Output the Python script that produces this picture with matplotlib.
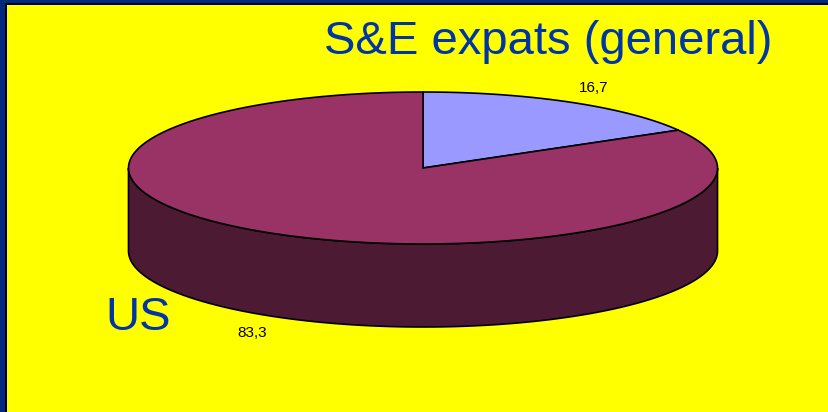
import numpy as np
import matplotlib.pyplot as plt
from matplotlib.patches import Polygon, Rectangle

# data
categories = ['', 'US']
values = [16.7, 83.3]
value_labels = ['16,7', '83,3']
title = 'S&E expats (general)'

top_colors = ['#9999FF', '#993366']
side_colors = ['#4D4D80', '#4D1A33']
navy = '#00297F'
text_blue = '#0035A5'

W, H = 829, 412
plt.rcParams['font.family'] = ['Liberation Sans', 'DejaVu Sans']

fig = plt.figure(figsize=(W / 100, H / 100), dpi=100)
fig.patch.set_facecolor(navy)
ax = fig.add_axes([0, 0, 1, 1])
ax.set_xlim(0, W)
ax.set_ylim(H, 0)
ax.axis('off')

# yellow panel with thin black frame on left/top
ax.add_patch(Rectangle((5, 3), W + 20, H + 20, facecolor='black',
                       edgecolor='none', clip_on=False))
ax.add_patch(Rectangle((7, 5), W + 20, H + 20, facecolor='#FFFF00',
                       edgecolor='none', clip_on=False))

# pie geometry (pixels)
cx, cy, rx, ry, depth = 423, 168, 294.5, 76, 83


def ell(t, dz=0.0):
    return np.column_stack([cx + rx * np.cos(t), cy - ry * np.sin(t) + dz])


fracs = np.array(values) / sum(values)
starts = np.pi / 2 - 2 * np.pi * np.concatenate([[0], np.cumsum(fracs)[:-1]])
ends = starts - 2 * np.pi * fracs

# side walls (front half only)
for s, e, c in zip(starts, ends, side_colors):
    for k in (-1, 0, 1):
        lo = max(e, -np.pi + 2 * np.pi * k)
        hi = min(s, 2 * np.pi * k)
        if lo < hi:
            t = np.linspace(lo, hi, 200)
            pts = np.vstack([ell(t), ell(t[::-1], depth)])
            ax.add_patch(Polygon(pts, closed=True, facecolor=c,
                                 edgecolor='black', linewidth=1.2))

# top faces
for s, e, c in zip(starts, ends, top_colors):
    t = np.linspace(s, e, 300)
    pts = np.vstack([[cx, cy], ell(t)])
    ax.add_patch(Polygon(pts, closed=True, facecolor=c,
                         edgecolor='black', linewidth=1.2))

# value labels
for s, e, lab in zip(starts, ends, value_labels):
    m = (s + e) / 2
    x = cx + 1.16 * rx * np.cos(m)
    y = cy - 1.215 * ry * np.sin(m)
    if np.sin(m) < 0:
        y += depth + 2
    ax.text(x, y, lab, fontsize=11, color='black', ha='center', va='center')

ax.text(548, 54, title, fontsize=34, color=text_blue, ha='center', va='baseline')
ax.text(138, 330, categories[1], fontsize=34, color=text_blue, ha='center', va='baseline')

fig.savefig('out.png', dpi=100, facecolor=navy)
